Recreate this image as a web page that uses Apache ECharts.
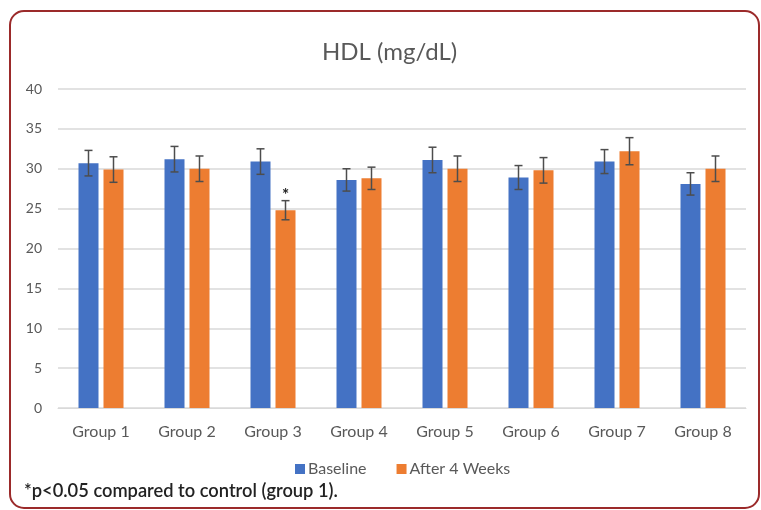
<!DOCTYPE html>
<html>
<head>
<meta charset="utf-8">
<script src="https://cdn.jsdelivr.net/npm/echarts@6/dist/echarts.min.js"></script>
<style>
html,body{margin:0;padding:0;background:#fff;}
#c{width:761px;height:510px;}
</style>
</head>
<body>
<div id="c"></div>
<script>
var categories = ['Group 1','Group 2','Group 3','Group 4','Group 5','Group 6','Group 7','Group 8'];
var baseline = [30.7, 31.2, 30.9, 28.6, 31.1, 28.9, 30.9, 28.1];
var baselineErr = [1.6, 1.6, 1.6, 1.4, 1.6, 1.5, 1.5, 1.4];
var after4 = [29.9, 30.0, 24.8, 28.8, 30.0, 29.8, 32.2, 30.0];
var after4Err = [1.6, 1.6, 1.2, 1.4, 1.6, 1.6, 1.7, 1.6];
var significant = [false, false, true, false, false, false, false, false];
var yTicks = [0, 5, 10, 15, 20, 25, 30, 35, 40];

var BAR_W = 20, HALF_OFF = 12.5;
var font = 'Lato, "Open Sans", sans-serif';

function errData(vals, errs) {
  return vals.map(function (v, i) { return [i, v, errs[i], significant[i] ? 1 : 0]; });
}
function makeErr(offset, showStar) {
  return function (params, api) {
    var i = api.value(0), v = api.value(1), e = api.value(2);
    var top = api.coord([i, v + e]);
    var bot = api.coord([i, v - e]);
    var x = top[0] + offset;
    var cap = 4;
    var st = {stroke: '#4d4d4d', lineWidth: 1.5};
    var children = [
      {type: 'line', shape: {x1: x, y1: top[1], x2: x, y2: bot[1]}, style: st},
      {type: 'line', shape: {x1: x - cap, y1: top[1], x2: x + cap, y2: top[1]}, style: st},
      {type: 'line', shape: {x1: x - cap, y1: bot[1], x2: x + cap, y2: bot[1]}, style: st}
    ];
    if (showStar && api.value(3) === 1) {
      children.push({type: 'text', style: {x: x, y: top[1] - 5, text: '*', fill: '#222', font: 'bold 17px ' + font, align: 'center', verticalAlign: 'middle'}});
    }
    return {type: 'group', children: children};
  };
}

var chart = echarts.init(document.getElementById('c'));
chart.setOption({
  animation: false,
  textStyle: {fontFamily: font},
  title: {
    text: 'HDL (mg/dL)', left: 317, top: 35,
    textStyle: {fontSize: 24, fontWeight: 'normal', color: '#595959', fontFamily: font}
  },
  legend: {
    data: ['Baseline', 'After 4 Weeks'],
    left: 290, top: 456, itemWidth: 10, itemHeight: 10, itemGap: 30,
    textStyle: {fontSize: 16, color: '#595959', fontFamily: font, padding: [0, 0, 0, -2]},
    icon: 'rect'
  },
  grid: {left: 58, right: 15, top: 89, bottom: 102, containLabel: false},
  xAxis: {
    type: 'category', data: categories,
    axisLine: {lineStyle: {color: '#d9d9d9'}},
    axisTick: {show: false},
    axisLabel: {fontSize: 16, color: '#595959', margin: 16, fontFamily: font}
  },
  yAxis: {
    type: 'value', min: yTicks[0], max: yTicks[yTicks.length - 1], interval: 5,
    axisLine: {show: false}, axisTick: {show: false},
    axisLabel: {fontSize: 14, color: '#595959', margin: 16, fontFamily: font},
    splitLine: {lineStyle: {color: '#d9d9d9', width: 1.5}}
  },
  series: [
    {name: 'Baseline', type: 'bar', data: baseline, barWidth: BAR_W, barGap: '25%', itemStyle: {color: '#4472C4'}},
    {name: 'After 4 Weeks', type: 'bar', data: after4, barWidth: BAR_W, barGap: '25%', itemStyle: {color: '#ED7D31'}},
    {type: 'custom', data: errData(baseline, baselineErr), renderItem: makeErr(-HALF_OFF, false), z: 10, silent: true},
    {type: 'custom', data: errData(after4, after4Err), renderItem: makeErr(HALF_OFF, true), z: 10, silent: true}
  ],
  graphic: [
    {type: 'rect', shape: {x: 10, y: 11, width: 749, height: 497, r: 14}, style: {fill: 'none', stroke: '#9b2a2a', lineWidth: 2}, silent: true},
    {type: 'text', left: 24, top: 482, style: {text: '*p<0.05 compared to control (group 1).', font: '600 18.3px ' + font, fill: '#222'}, silent: true}
  ]
});
</script>
</body>
</html>
